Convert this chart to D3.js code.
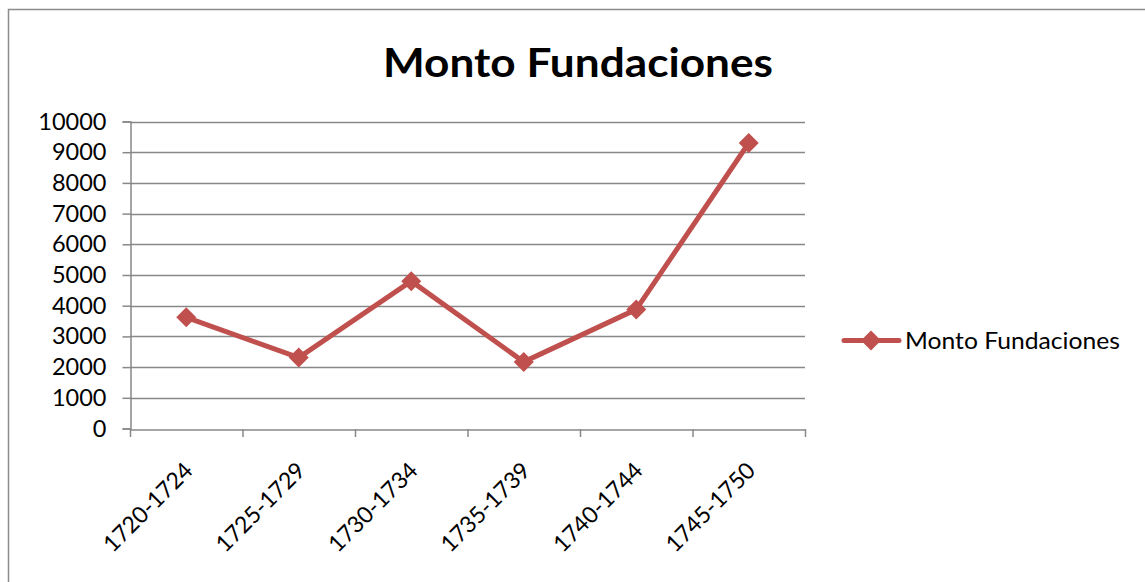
<!DOCTYPE html>
<html>
<head>
<meta charset="utf-8">
<script src="https://cdn.jsdelivr.net/npm/d3@7"></script>
<style>
  body { margin: 0; background: #fff; }
  svg { display: block; font-family: Lato, "Open Sans", sans-serif; }
</style>
</head>
<body>
<svg width="1145" height="582"></svg>
<script>
// data
var categories = ['1720-1724', '1725-1729', '1730-1734', '1735-1739', '1740-1744', '1745-1750'];
var montoValues = [3620, 2310, 4800, 2170, 3880, 9300];
var yTicks = [0, 1000, 2000, 3000, 4000, 5000, 6000, 7000, 8000, 9000, 10000];
var seriesName = 'Monto Fundaciones';
var titleText = 'Monto Fundaciones';

var svg = d3.select('svg');
var color = '#C0504D';
var grid = '#888';

// outer frame
svg.append('rect')
    .attr('x', 8.5).attr('y', 9.5)
    .attr('width', 1145).attr('height', 600)
    .style('fill', 'none')
    .style('stroke', '#8c8c8c')
    .style('stroke-width', 1.5);

// title
svg.append('text')
    .attr('x', 578).attr('y', 77)
    .attr('text-anchor', 'middle')
    .attr('textLength', 390)
    .attr('lengthAdjust', 'spacingAndGlyphs')
    .style('font-size', '40px')
    .style('font-weight', 'bold')
    .text(titleText);

// scales
var x = d3.scaleBand().domain(categories).range([130, 805]);
var y = d3.scaleLinear().domain([0, 10000]).range([428.5, 121.5]);

// gridlines
svg.append('g').classed('grid', true)
  .selectAll('line')
  .data(yTicks.slice(1))
  .enter().append('line')
    .attr('x1', 130).attr('x2', 805)
    .attr('y1', d => Math.round(y(d)) + 0.5)
    .attr('y2', d => Math.round(y(d)) + 0.5)
    .style('stroke', grid)
    .style('stroke-width', 1.5);

// y axis
var yAxis = svg.append('g')
    .attr('transform', 'translate(130.5,0)')
    .call(d3.axisLeft(y).tickValues(yTicks).tickSize(8).tickPadding(16).tickFormat(d3.format('d')));

// x axis
var xAxis = svg.append('g')
    .attr('transform', 'translate(0,' + (Math.round(y(0)) + 0.5) + ')')
    .call(d3.axisBottom(x).tickSize(0).tickFormat(''));

// category boundary ticks
svg.append('g').selectAll('line')
  .data(categories.concat(['end']))
  .enter().append('line')
    .attr('x1', (d, i) => 130 + i * x.step() + 0.5)
    .attr('x2', (d, i) => 130 + i * x.step() + 0.5)
    .attr('y1', Math.round(y(0)))
    .attr('y2', Math.round(y(0)) + 8)
    .style('stroke', grid)
    .style('stroke-width', 1.5);

[yAxis, xAxis].forEach(function(ax) {
  ax.select('.domain').style('stroke', grid).style('stroke-width', 1.5);
  ax.selectAll('.tick line').style('stroke', grid).style('stroke-width', 1.5);
  ax.selectAll('text').style('font-family', 'Lato, sans-serif').style('font-size', '23.5px').style('fill', '#000');
});

// rotated category labels
svg.append('g').selectAll('text')
  .data(categories)
  .enter().append('text')
    .attr('transform', d => 'translate(' + (x(d) + x.bandwidth() / 2 + 8) + ',472) rotate(-45)')
    .attr('text-anchor', 'end')
    .style('font-size', '23px')
    .text(d => d);

// line
var line = d3.line()
    .x((d, i) => x(categories[i]) + x.bandwidth() / 2)
    .y(d => y(d));

svg.append('path')
    .datum(montoValues)
    .attr('d', line)
    .style('fill', 'none')
    .style('stroke', color)
    .style('stroke-width', 5)
    .style('stroke-linejoin', 'round');

var diamond = d3.symbol().type(d3.symbolSquare).size(200);

svg.append('g').selectAll('path')
  .data(montoValues)
  .enter().append('path')
    .attr('d', diamond)
    .attr('transform', (d, i) => 'translate(' + (x(categories[i]) + x.bandwidth() / 2) + ',' + y(d) + ') rotate(45)')
    .style('fill', color);

// legend
var legend = svg.append('g').attr('transform', 'translate(844,340.5)');
legend.append('line')
    .attr('x1', 0).attr('x2', 55)
    .style('stroke', color)
    .style('stroke-width', 5)
    .style('stroke-linecap', 'round');
legend.append('path')
    .attr('d', diamond)
    .attr('transform', 'translate(27,0) rotate(45)')
    .style('fill', color);
legend.append('text')
    .attr('x', 61).attr('y', 8)
    .attr('textLength', 215)
    .attr('lengthAdjust', 'spacingAndGlyphs')
    .style('font-size', '23px')
    .text(seriesName);
</script>
</body>
</html>
